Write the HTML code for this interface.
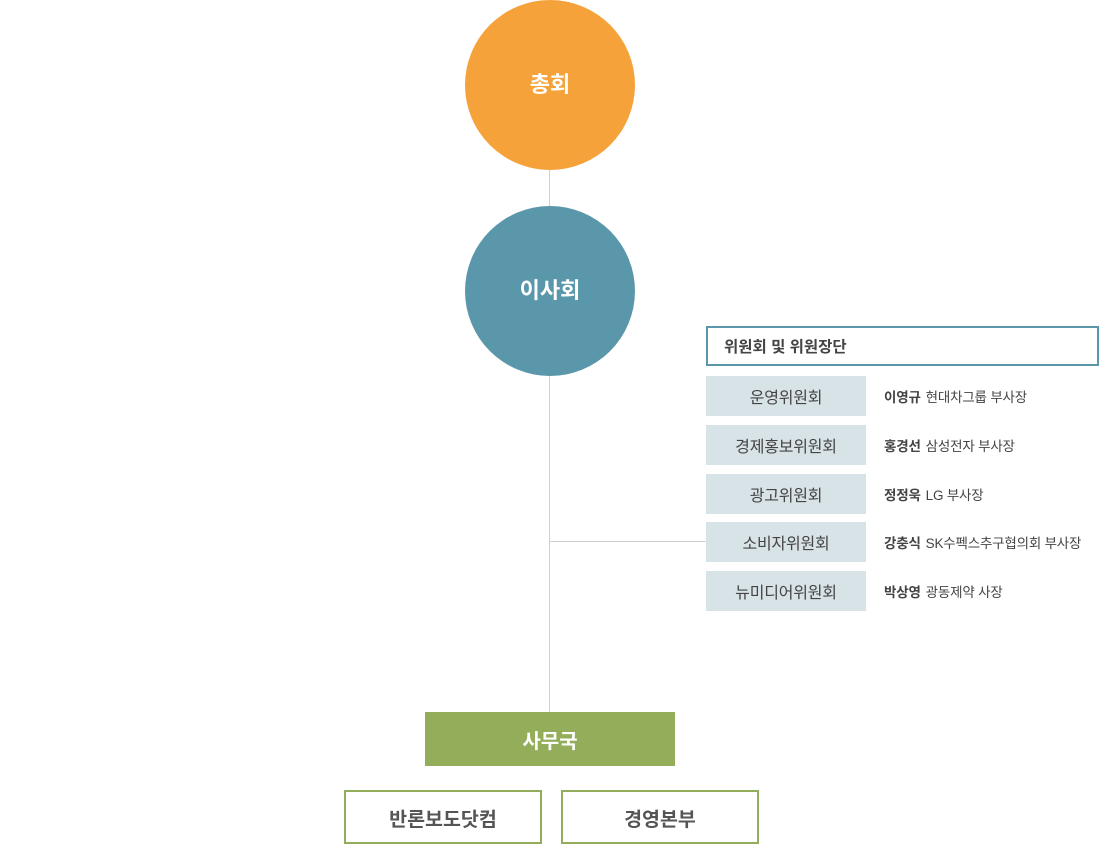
<!DOCTYPE html>
<html>
<head>
<meta charset="utf-8">
<style>
  html,body{margin:0;padding:0;background:#fff;}
  body{width:1100px;height:845px;position:relative;overflow:hidden;
    font-family:"Liberation Sans","Noto Sans CJK KR",sans-serif;}
  .abs{position:absolute;}
  .circle{position:absolute;width:170px;height:170px;border-radius:50%;
    color:#fff;font-weight:bold;font-size:22px;display:flex;align-items:center;justify-content:center;
    box-sizing:border-box;padding-bottom:4px;}
  .vline{position:absolute;width:1px;background:#cfcfcf;left:549px;}
  .gbox{position:absolute;left:706px;width:160px;height:40px;background:#d8e3e8;
    color:#444;font-size:16px;display:flex;align-items:center;justify-content:center;letter-spacing:-0.2px;}
  .name{position:absolute;left:884px;height:40px;display:flex;align-items:center;
    font-size:13.5px;color:#444;letter-spacing:-0.2px;white-space:nowrap;}
  .name b{font-weight:bold;margin-right:5px;}
  .sub{position:absolute;top:790px;width:194px;height:50px;border:2px solid #94ad5a;
    color:#555;font-weight:bold;font-size:19.5px;display:flex;align-items:center;justify-content:center;}
</style>
</head>
<body>
  <!-- connectors -->
  <div class="vline" style="top:168px;height:40px;"></div>
  <div class="vline" style="top:374px;height:340px;"></div>
  <div class="abs" style="left:550px;top:541px;width:156px;height:1px;background:#cfcfcf;"></div>

  <div class="circle" style="left:465px;top:0;background:#f6a23a;">총회</div>
  <div class="circle" style="left:465px;top:206px;background:#5b97ab;">이사회</div>

  <div class="abs" style="left:706px;top:326px;height:36px;border:2px solid #5b97ab;
    color:#444;font-weight:bold;font-size:15.5px;display:flex;align-items:center;padding-left:16px;box-sizing:content-box;width:373px;">위원회 및 위원장단</div>

  <div class="gbox" style="top:376px;">운영위원회</div>
  <div class="name" style="top:376px;"><b>이영규</b>현대차그룹 부사장</div>

  <div class="gbox" style="top:425px;">경제홍보위원회</div>
  <div class="name" style="top:425px;"><b>홍경선</b>삼성전자 부사장</div>

  <div class="gbox" style="top:474px;">광고위원회</div>
  <div class="name" style="top:474px;"><b>정정욱</b>LG 부사장</div>

  <div class="gbox" style="top:522px;">소비자위원회</div>
  <div class="name" style="top:522px;"><b>강충식</b>SK수펙스추구협의회 부사장</div>

  <div class="gbox" style="top:571px;">뉴미디어위원회</div>
  <div class="name" style="top:571px;"><b>박상영</b>광동제약 사장</div>

  <div class="abs" style="left:425px;top:712px;width:250px;height:54px;background:#94ad5a;
    color:#fff;font-weight:bold;font-size:20px;display:flex;align-items:center;justify-content:center;">사무국</div>

  <div class="sub" style="left:344px;">반론보도닷컴</div>
  <div class="sub" style="left:561px;">경영본부</div>
</body>
</html>
